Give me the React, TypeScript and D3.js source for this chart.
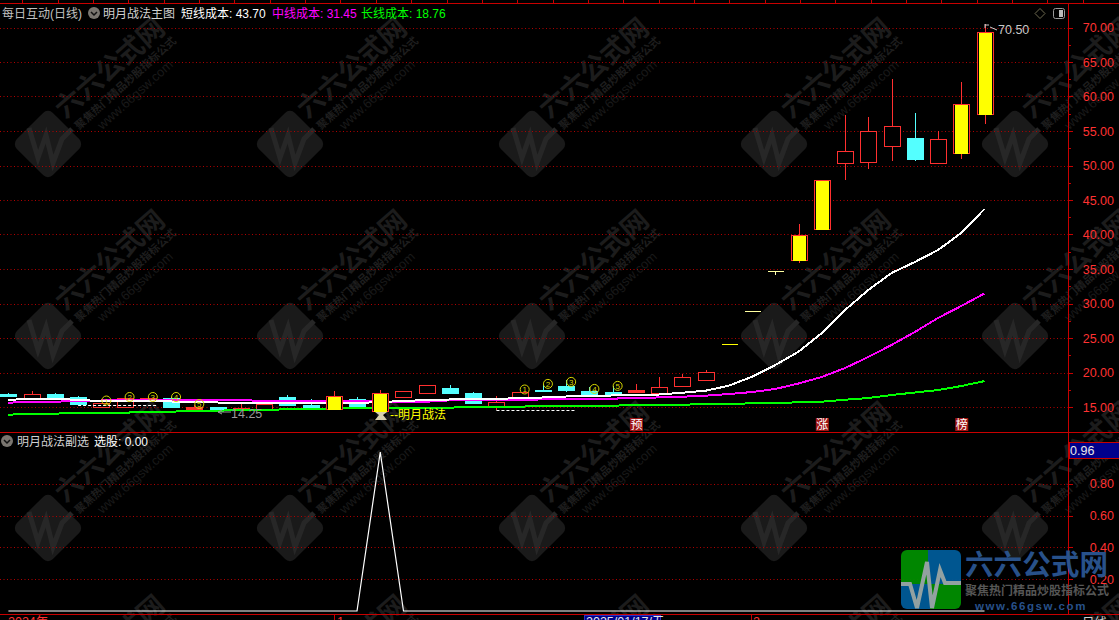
import React from "react";
import * as d3 from "d3";

const W = 1119, H = 620;
const FONT = '"Liberation Sans","Noto Sans CJK SC",sans-serif';

// [bodyHigh, bodyLow, high, low]
const candles: [number, number, number, number][] = [
  [16.93,16.64,17.0,16.5],[16.88,16.26,17.3,16.26],[16.88,16.45,17.03,16.4],[16.45,15.43,16.6,15.3],
  [15.62,14.95,15.62,14.85],[16.26,15.04,16.3,15.0],[16.26,16.0,16.3,15.9],[16.3,15.04,16.4,15.0],
  [14.95,14.75,15.3,14.7],[15.0,14.56,15.05,14.5],[14.85,14.65,15.6,14.65],[15.43,14.7,15.5,14.7],
  [16.45,15.33,16.74,15.3],[15.3,14.75,16.1,14.7],[16.6,14.7,17.3,14.7],[16.16,14.8,16.45,14.75],
  [17.0,14.4,17.46,14.2],[17.27,16.5,17.27,16.45],[18.14,17.03,18.14,16.9],[17.75,17.03,18.2,17.03],
  [17.03,15.58,17.17,15.4],[15.77,15.14,16.6,14.55],[17.17,16.0,17.17,16.0],[17.4,17.3,18.3,17.3],
  [18.04,17.46,18.9,17.17],[17.3,16.74,17.9,16.7],[17.17,16.9,18.0,16.6],[17.46,17.17,18.3,17.17],
  [17.86,17.07,19.3,17.07],[19.3,18.09,19.78,18.09],[20.03,18.96,20.36,18.81],[24.09,24.09,24.09,24.09],
  [28.87,28.87,28.87,28.87],[34.67,34.67,34.67,34.13],[39.93,36.3,41.52,35.91],[47.9,40.8,47.9,40.8],
  [52.06,50.41,57.32,47.9],[54.96,50.55,57.03,49.54],[55.68,52.78,62.54,50.7],[53.99,50.99,57.61,50.7],
  [53.8,50.41,55.0,50.41],[58.87,51.86,62.1,51.0],[69.35,57.5,70.5,56.06],
];
const cyanIdx = [0,2,3,7,9,12,13,15,19,20,23,24,25,26,39];
const yellowIdx = [14,16,34,35,41,42];
const dojiIdx = [31,32,33];
const filledRedIdx = [8,27];

const shortCost = [16.01,16.23,16.23,16.01,15.87,15.87,15.87,15.8,15.72,15.65,15.58,15.58,15.65,15.65,15.65,15.58,15.72,15.87,16.01,16.09,16.09,16.16,16.3,16.38,16.52,16.59,16.67,16.74,16.81,17.07,17.36,18.09,19.39,21.09,23.01,25.72,29.06,31.96,34.42,36.01,37.75,40.22,43.7];
const midCost = [15.62,15.77,15.77,15.87,15.94,15.97,15.97,15.97,15.97,16.01,16.01,15.87,15.87,15.87,15.91,15.91,15.77,15.77,15.77,15.97,15.97,15.97,15.97,16.12,16.12,16.2,16.2,16.35,16.38,16.49,16.64,16.88,17.17,17.61,18.41,19.35,20.65,22.25,23.99,25.87,27.9,29.64,31.45];
const longCost = [13.88,14.03,14.03,14.17,14.17,14.17,14.32,14.32,14.46,14.46,14.57,14.57,14.67,14.67,14.75,14.9,14.9,14.9,14.9,14.9,15.04,15.04,15.04,15.19,15.19,15.19,15.19,15.29,15.29,15.33,15.43,15.43,15.54,15.58,15.68,15.77,16.06,16.3,16.74,17.1,17.46,18.04,18.76];
const pick = [0,0,0,0,0,0,0,0,0,0,0,0,0,0,0,0,1,0,0,0,0,0,0,0,0,0,0,0,0,0,0,0,0,0,0,0,0,0,0,0,0,0,0];

const mainTicks = [15,20,25,30,35,40,45,50,55,60,65,70];
const minorTicks = [17.5,22.5,27.5,32.5,37.5,42.5,47.5,52.5,57.5,62.5,67.5];
const subTicks = [0.2,0.4,0.6,0.8];
const signals: [number, number, string][] = [
  [4,15.94,"1"],[5,16.45,"2"],[6,16.45,"3"],[7,16.45,"4"],[8,15.43,"5"],
  [22,17.54,"1"],[23,18.35,"2"],[24,18.64,"3"],[25,17.62,"4"],[26,18.06,"5"],
];
const seals: [number, string][] = [[27,"预"],[35,"涨"],[41,"榜"]];
const dashes: [number, number, number][] = [[3,6.4,15.25],[21,24.4,14.52]];
const wmX = [48,290,532,774,1015];
const wmY = [144,336,528,721];
const topTicks = d3.range(0,31).map(i => 22.3 + i * 35.35);

const x = d3.scaleLinear().domain([0,42]).range([8.4,984.5]);
const y = d3.scaleLinear().domain([15,70]).range([407,27.5]);
const ySub = d3.scaleLinear().domain([0,1]).range([611,452]);
const mkLine = (vals: number[]) => d3.line<number>().x((_, i) => x(i)).y(v => y(v))(vals) || "";
const subLine = d3.line<number>().x((_, i) => x(i)).y(v => ySub(v))(pick) || "";

const RED = "#ff3232", LINE = "#c80000", GRID = "#b00000";
const BW = 16;

const geom = (i: number) => {
  const d = candles[i];
  const cx = Math.round(x(i)) + 0.5;
  const top = Math.round(y(d[0])) + 0.5, bot = Math.round(y(d[1])) + 0.5;
  return { cx, top, bot, hi: y(d[2]), lo: y(d[3]), bx: cx - BW / 2 };
};
const allIdx = candles.map((_, i) => i);
const redIdx = allIdx.filter(i => !cyanIdx.includes(i) && !yellowIdx.includes(i) && !dojiIdx.includes(i));

function wickPath(list: number[]) {
  return list.map(i => {
    const g = geom(i);
    return `M${g.cx},${g.hi}V${g.top}M${g.cx},${g.bot}V${g.lo}`;
  }).join("");
}
function bodyPath(list: number[]) {
  return list.map(i => {
    const g = geom(i);
    return `M${g.bx},${g.top}H${g.bx + BW}V${Math.max(g.bot, g.top + 1)}H${g.bx}Z`;
  }).join("");
}

function Watermark({ cx, cy }: { cx: number; cy: number }) {
  const pulse = d3.line()([[-19,-16],[-10,14],[-2,-9],[5,19],[14,-5],[24,-15]]) || "";
  return (
    <g transform={`translate(${cx},${cy})`} fontFamily='"Noto Sans CJK SC",sans-serif'>
      <rect x={-25.5} y={-25.5} width={51} height={51} rx={7} fill="#1a1a1a" transform="rotate(45)" />
      <path d={pulse} fill="none" stroke="#272727" strokeWidth={5} />
      <text transform="translate(68,-69) rotate(-41)" fontSize={27} fontWeight={700} fill="#1c1c1c" textAnchor="middle">六六公式网</text>
      <text transform="translate(80,-58) rotate(-42)" fontSize={11} fontWeight={700} fill="#1e1e1e" textAnchor="middle">聚焦热门精品炒股指标公式</text>
      <text transform="translate(90,-46) rotate(-42)" fontSize={13} fill="#191919" textAnchor="middle" fontFamily={FONT}>www.66gsw.com</text>
    </g>
  );
}

function AxisLabels({ ticks, scale, fmt }: { ticks: number[]; scale: (v: number) => number; fmt: (v: number) => string }) {
  return (
    <g>
      {ticks.map(t => (
        <g key={t}>
          <line x1={0} x2={1068} y1={Math.round(scale(t)) + 0.5} y2={Math.round(scale(t)) + 0.5} stroke={GRID} strokeDasharray="1 2.5" />
          <line x1={1068} x2={1073} y1={Math.round(scale(t)) + 0.5} y2={Math.round(scale(t)) + 0.5} stroke={LINE} />
          <text x={1114} y={scale(t) + 4.5} fill={RED} fontSize={12.5} textAnchor="end" fontFamily={FONT}>{fmt(t)}</text>
        </g>
      ))}
    </g>
  );
}

function Chevron({ cx, cy }: { cx: number; cy: number }) {
  return (
    <g>
      <circle cx={cx} cy={cy} r={6} fill="#7a7670" />
      <path d={`M${cx - 3},${cy - 1}L${cx},${cy + 2}L${cx + 3},${cy - 1}`} fill="none" stroke="#111" strokeWidth={1.5} />
    </g>
  );
}

function Logo() {
  const pulse = d3.line()([[901,584],[910,584],[917,608],[927,562],[932,608],[940,570],[945,583],[961,583]]) || "";
  return (
    <g opacity={0.96}>
      <clipPath id="logoClip"><rect x={901} y={550} width={60} height={59} rx={6} /></clipPath>
      <g clipPath="url(#logoClip)">
        <rect x={901} y={550} width={27} height={34} fill="#008c00" />
        <rect x={928} y={550} width={33} height={34} fill="#005a96" />
        <rect x={901} y={584} width={29} height={25} fill="#005a96" />
        <rect x={930} y={584} width={31} height={25} fill="#008c00" />
        <path d={pulse} fill="none" stroke="#9aa8a8" strokeWidth={4} />
      </g>
      <text x={965} y={575} fontSize={28.6} fontWeight={700} fill="#2a5590" fontFamily='"Noto Sans CJK SC",sans-serif'>六六公式网</text>
      <text x={965} y={595} fontSize={12} fontWeight={700} fill="#5a5a5a" fontFamily='"Noto Sans CJK SC",sans-serif'>聚焦热门精品炒股指标公式</text>
      <text x={975} y={610} fontSize={11.5} fontWeight={700} fill="#2a5590" letterSpacing={1.6} fontFamily={FONT}>www.66gsw.com</text>
    </g>
  );
}

export default function App() {
  return (
    <svg width={W} height={H} viewBox={`0 0 ${W} ${H}`} style={{ position: "fixed", left: 0, top: 0, background: "#000", display: "block" }}>
      <rect width={W} height={H} fill="#000" />
      {wmY.map(cy => wmX.map(cx => <Watermark key={`${cx}-${cy}`} cx={cx} cy={cy} />))}

      <AxisLabels ticks={mainTicks} scale={y} fmt={v => v.toFixed(2)} />
      <AxisLabels ticks={subTicks} scale={ySub} fmt={v => v.toFixed(2)} />
      {minorTicks.map(t => <line key={t} x1={1068} x2={1071} y1={Math.round(y(t)) + 0.5} y2={Math.round(y(t)) + 0.5} stroke={LINE} />)}

      <g shapeRendering="crispEdges">
        <path d={wickPath(redIdx)} fill="none" stroke="#ff3030" />
        <path d={bodyPath(redIdx.filter(i => !filledRedIdx.includes(i)))} fill="#000" stroke="#ff3030" />
        <path d={bodyPath(filledRedIdx)} fill="#ff3030" stroke="#ff3030" />
        <path d={wickPath(cyanIdx)} fill="none" stroke="#54ffff" />
        <path d={bodyPath(cyanIdx)} fill="#54ffff" stroke="#54ffff" />
        <path d={wickPath(dojiIdx)} fill="none" stroke="#ffffb0" />
        {dojiIdx.map(i => {
          const g = geom(i);
          return <line key={i} x1={g.bx} x2={g.bx + BW} y1={g.top} y2={g.top} stroke={i === 31 ? "#ffff00" : "#ffffa0"} />;
        })}
      </g>
      {dashes.map(([a, b, p], k) => (
        <line key={k} x1={x(a)} x2={x(b)} y1={Math.round(y(p)) + 0.5} y2={Math.round(y(p)) + 0.5} stroke="#fff" strokeDasharray="3 2" />
      ))}
      <g shapeRendering="crispEdges">
        <path d={mkLine(longCost)} fill="none" stroke="#00ff00" strokeWidth={2} />
        <path d={mkLine(midCost)} fill="none" stroke="#ff00ff" strokeWidth={2} />
        <path d={mkLine(shortCost)} fill="none" stroke="#ffffff" strokeWidth={2} />
      </g>
      <g shapeRendering="crispEdges">
        <path d={wickPath(yellowIdx)} fill="none" stroke="#ff3030" />
        <path d={bodyPath(yellowIdx)} fill="#000" stroke="#ff3030" />
        {yellowIdx.map(i => {
          const g = geom(i);
          return <rect key={i} x={g.bx + 1.5} y={g.top} width={BW - 3} height={g.bot - g.top} fill="#ffff00" />;
        })}
      </g>

      {signals.map(([i, p, s], k) => (
        <g key={k} transform={`translate(${x(i) + 5},${y(p)})`}>
          <circle r={4.5} fill="none" stroke="#d8d800" strokeWidth={1} />
          <text y={3} fontSize={8} fill="#d8d800" textAnchor="middle" fontFamily={FONT}>{s}</text>
        </g>
      ))}

      {seals.map(([i, s]) => (
        <g key={s}>
          <rect x={x(i) - 6} y={418} width={13} height={13} fill="#a01414" />
          <text x={x(i) + 0.5} y={429} fontSize={12} fill="#fff" textAnchor="middle" fontFamily='"Noto Sans CJK SC",sans-serif'>{s}</text>
        </g>
      ))}

      {/* annotations */}
      <path d="M375,420L387,420L383,415L387,412L375,412L379,415Z" fill="#d8d0b0" />
      <text x={390} y={418.5} fontSize={12} fill="#ffff00" fontFamily={FONT}>--明月战法</text>
      <path d="M218,412H231M218,412L222,410M218,412L222,414" fill="none" stroke="#999" />
      <text x={231} y={418} fontSize={12.5} fill="#999" fontFamily={FONT}>14.25</text>
      <path d="M985,24V28M985,25H989M990,27L997,30" fill="none" stroke="#ccc" />
      <text x={998} y={34} fontSize={12.5} fill="#c8c8c8" fontFamily={FONT}>70.50</text>

      {/* frame */}
      <g shapeRendering="crispEdges" stroke={LINE} strokeWidth={1}>
        <line x1={0} x2={W} y1={3.5} y2={3.5} />
        <line x1={0} x2={W} y1={432.5} y2={432.5} />
        <line x1={0} x2={W} y1={614.5} y2={614.5} />
        <line x1={1068.5} x2={1068.5} y1={3} y2={615} />
        {topTicks.map(t => <line key={t} x1={Math.round(t) + 0.5} x2={Math.round(t) + 0.5} y1={0} y2={3} />)}
        <line x1={334.5} x2={334.5} y1={615} y2={H} />
        <line x1={751.5} x2={751.5} y1={615} y2={H} />
      </g>

      {/* sub pane */}
      <path d={subLine} fill="none" stroke="#fff" strokeWidth={1.2} />
      <rect x={1069.5} y={442.5} width={50} height={16} fill="#00008c" stroke={LINE} />
      <text x={1070} y={454.5} fontSize={12.5} fill="#e8e8e8" fontFamily={FONT}>0.96</text>

      {/* titles */}
      <g fontFamily={FONT} fontSize={12}>
        <text x={2} y={17.5} fill="#c0c0c0">每日互动(日线)</text>
        <Chevron cx={94} cy={13} />
        <text x={103} y={17.5} fill="#d0d0d0">明月战法主图</text>
        <text x={181} y={17.5} fill="#fff">短线成本: 43.70</text>
        <text x={272} y={17.5} fill="#ff00ff">中线成本: 31.45</text>
        <text x={361} y={17.5} fill="#00ff00">长线成本: 18.76</text>
        <Chevron cx={7} cy={441} />
        <text x={17} y={445.5} fill="#d0d0d0">明月战法副选</text>
        <text x={94} y={445.5} fill="#fff">选股: 0.00</text>
      </g>

      {/* corner icons */}
      <path d="M1040,8.5L1045,13.5L1040,18.5L1035,13.5Z" fill="none" stroke="#6e6a50" />
      <rect x={1053.5} y={8.5} width={11} height={10} rx={2} fill="none" stroke="#999" />
      <rect x={1059} y={10} width={4} height={7} fill="#bbb" />

      {/* bottom axis (clipped by window) */}
      <rect x={584.5} y={615.5} width={76} height={10} fill="#00008c" stroke="#3030c0" />
      <g fontFamily={FONT} fontSize={12.5}>
        <text x={8} y={626} fill={RED}>2024年</text>
        <text x={337} y={626} fill={RED}>1</text>
        <text x={586} y={626} fill="#e8e8e8">2025/01/17/五</text>
        <text x={753} y={626} fill={RED}>2</text>
        <text x={1082} y={627} fill="#d0d0d0">日线</text>
      </g>

      <Logo />
    </svg>
  );
}
